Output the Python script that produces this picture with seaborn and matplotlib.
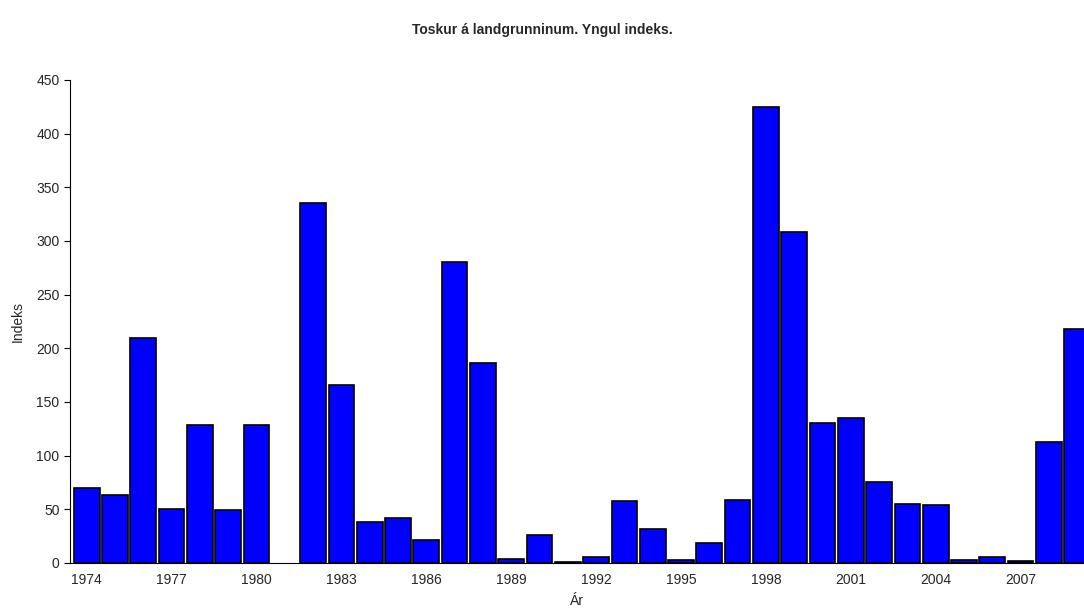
import numpy as np
import pandas as pd
import matplotlib
matplotlib.use("Agg")
import matplotlib.pyplot as plt
import seaborn as sns

# Yngul indeks eftir árum (1981 vantar)
years = list(range(1974, 2010))
values = [70, 63, 210, 50, 129, 49, 129, np.nan, 335, 166,
          38, 42, 21, 280, 186, 4, 26, 1, 6, 58,
          32, 3, 19, 59, 425, 308, 130, 135, 75, 55,
          54, 3, 6, 2, 113, 218]
tick_years = [str(y) for y in range(1974, 2010, 3)]

df = pd.DataFrame({"Ár": [str(y) for y in years], "Indeks": values})

sns.set_style("white")
plt.rcParams['font.family'] = ['Liberation Sans', 'DejaVu Sans']

fig = plt.figure(figsize=(10.84, 6.15), dpi=100)
ax = fig.add_axes([0.0646, 0.0846, 0.9354, 0.7854])

sns.barplot(data=df, x="Ár", y="Indeks", order=[str(y) for y in years],
            color="#0000FF", saturation=1, width=0.91,
            edgecolor="black", linewidth=1.2, ax=ax)

ax.set_ylim(0, 450)
ax.set_yticks(range(0, 451, 50))
ax.set_xlim(-0.59, 35.24)
labels = [str(y) if str(y) in tick_years else "" for y in years]
ax.set_xticks(range(len(years)))
ax.set_xticklabels(labels, fontsize=10)
ax.tick_params(axis="x", length=0, pad=7)
ax.tick_params(axis="y", length=4, width=0.8, color="black", labelsize=10, left=True)
for s in ["top", "right"]:
    ax.spines[s].set_visible(False)
ax.spines["left"].set_color("black")
ax.spines["bottom"].set_color("black")
ax.spines["left"].set_linewidth(0.8)
ax.spines["bottom"].set_linewidth(0.8)

ax.set_xlabel("Ár", fontsize=10, labelpad=5)
ax.set_ylabel("Indeks", fontsize=10, labelpad=8)
fig.suptitle("Toskur á landgrunninum. Yngul indeks.", fontsize=10,
             fontweight="bold", y=0.963)

plt.savefig("out.png", dpi=100)
